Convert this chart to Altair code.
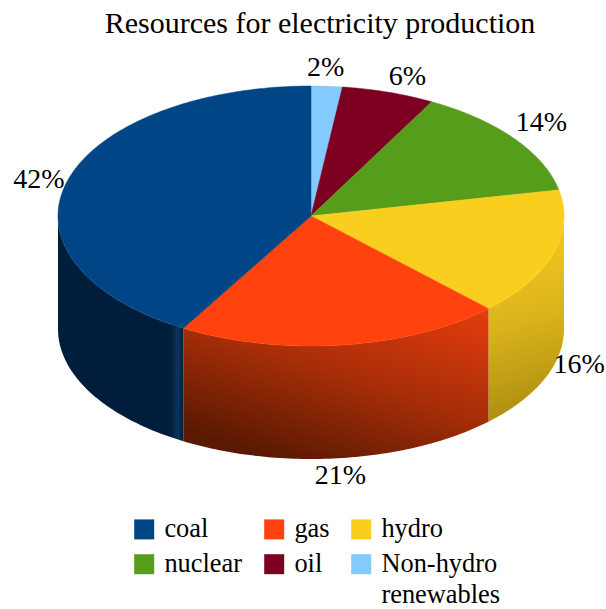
import math
import altair as alt
import pandas as pd

# Slices, clockwise from twelve o'clock
names = ["Non-hydro renewables", "oil", "nuclear", "hydro", "gas", "coal"]
shares = [2, 6, 14, 16, 21, 42]

# Legend fills column by column: coal/nuclear, gas/oil, hydro/Non-hydro
legend_order = ["coal", "nuclear", "gas", "oil", "hydro", "Non-hydro renewables"]
legend_colors = ["#004586", "#579d1c", "#ff420e", "#7e0021", "#f9ce1f", "#83caff"]

# Offsets of each percent label from its slice's rim point
label_dx = [-1, 19, 27, 26, -2, -28]
label_dy = [-18, -15, -16, -2, 18, -2]

TITLE = "Resources for electricity production"
SERIF = "Liberation Serif, Times New Roman, serif"

# Drum geometry in canvas units
CX, CY, RX, RY, DEPTH = 311, 216, 253, 130, 113
TOP = 40


def rim(deg):
    a = math.radians(deg)
    return CX + RX * math.sin(a), CY - RY * math.cos(a)


def sweep(a0, a1, step=1.0):
    n = max(2, int(abs(a1 - a0) / step) + 1)
    return [a0 + (a1 - a0) * i / (n - 1) for i in range(n)]


total = sum(shares)
edges = [0.0]
for s in shares:
    edges.append(edges[-1] + 360.0 * s / total)

x_enc = alt.X("x:Q", scale=alt.Scale(domain=[0, 606], nice=False, zero=False), axis=None)
y_enc = alt.Y("y:Q", scale=alt.Scale(domain=[609, TOP], nice=False, zero=False), axis=None)

# Top face
rows = []
for name, a0, a1 in zip(names, edges[:-1], edges[1:]):
    pts = [(CX, CY)] + [rim(a) for a in sweep(a0, a1)] + [(CX, CY)]
    for i, (x, y) in enumerate(pts):
        rows.append({"name": name, "x": x, "y": y, "i": i})
faces = (
    alt.Chart(pd.DataFrame(rows))
    .mark_line(strokeWidth=0.5, interpolate="linear")
    .encode(
        x=x_enc,
        y=y_enc,
        order="i:Q",
        fill=alt.Fill(
            "name:N",
            scale=alt.Scale(domain=legend_order, range=legend_colors),
            legend=alt.Legend(
                title=None,
                orient="none",
                legendX=131,
                legendY=476,
                columns=3,
                symbolType="square",
                symbolSize=400,
                symbolStrokeWidth=0,
                labelFont=SERIF,
                labelFontSize=26.4,
                labelFontWeight="normal",
                labelColor="#000000",
                labelOffset=7,
                labelLimit=200,
                columnPadding=18,
                rowPadding=8,
                labelExpr=(
                    "datum.label == 'Non-hydro renewables' ? ['Non-hydro', 'renewables'] : "
                    "(datum.label == 'nuclear' || datum.label == 'oil') ? [datum.label, ' '] : "
                    "datum.label == 'gas' ? 'gas\u00a0' : datum.label"
                ),
            ),
        ),
        stroke=alt.Stroke("name:N", scale=alt.Scale(domain=legend_order, range=legend_colors), legend=None),
    )
)


# Side walls, visible only along the front half of the drum
def wall(a0, a1, gradient):
    recs = []
    for a in sweep(a0, a1):
        x, y = rim(a)
        recs.append({"x": x, "y": y, "y2": y + DEPTH})
    return (
        alt.Chart(pd.DataFrame(recs))
        .mark_area(color=gradient, interpolate="linear")
        .encode(x=x_enc, y=y_enc, y2="y2:Q")
    )


hydro_grad = alt.Gradient(
    gradient="linear", x1=0.5, y1=0, x2=0.6, y2=1,
    stops=[
        alt.GradientStop(color="#f9ce1f", offset=0.0),
        alt.GradientStop(color="#dab31c", offset=0.5),
        alt.GradientStop(color="#a88b0f", offset=1.0),
    ],
)
gas_grad = alt.Gradient(
    gradient="linear", x1=0.95, y1=0, x2=0.3, y2=1,
    stops=[
        alt.GradientStop(color="#e33c0c", offset=0.0),
        alt.GradientStop(color="#a82e08", offset=0.5),
        alt.GradientStop(color="#5a1902", offset=1.0),
    ],
)
coal_grad = alt.Gradient(
    gradient="linear", x1=0, y1=0, x2=1, y2=0,
    stops=[
        alt.GradientStop(color="#001e3b", offset=0.0),
        alt.GradientStop(color="#001e3b", offset=0.90),
        alt.GradientStop(color="#0a3560", offset=0.955),
        alt.GradientStop(color="#001e3b", offset=1.0),
    ],
)
walls = [
    wall(90, edges[4], hydro_grad),
    wall(edges[4], edges[5], gas_grad),
    wall(edges[5], 270, coal_grad),
]

# Percent labels sit just off the outer rim, dropping to the lower rim on the front half
label_rows = []
for s, a0, a1, dx, dy in zip(shares, edges[:-1], edges[1:], label_dx, label_dy):
    mid = (a0 + a1) / 2
    x, y = rim(mid)
    if 90 < mid < 200:
        y += DEPTH
    label_rows.append({"x": x + dx, "y": y + dy, "label": f"{s}%"})
labels = (
    alt.Chart(pd.DataFrame(label_rows))
    .mark_text(font=SERIF, fontSize=28, fontWeight="normal", color="#000000", align="center", baseline="middle")
    .encode(x=x_enc, y=y_enc, text="label:N")
)

chart = (
    alt.layer(*walls, faces, labels)
    .properties(
        width=606,
        height=609 - TOP,
        padding={"left": 0, "top": TOP, "right": 0, "bottom": 0},
        autosize=alt.AutoSizeParams(type="none"),
        background="#ffffff",
        title=alt.TitleParams(
            TITLE, font=SERIF, fontSize=30, fontWeight="normal", color="#000000",
            anchor="middle", dx=17, offset=1,
        ),
    )
    .configure(style={"guide-label": {"lineHeight": 30.5}})
    .configure_view(strokeWidth=0)
)

chart.save("out.html", embed_options={"renderer": "svg", "actions": False})
